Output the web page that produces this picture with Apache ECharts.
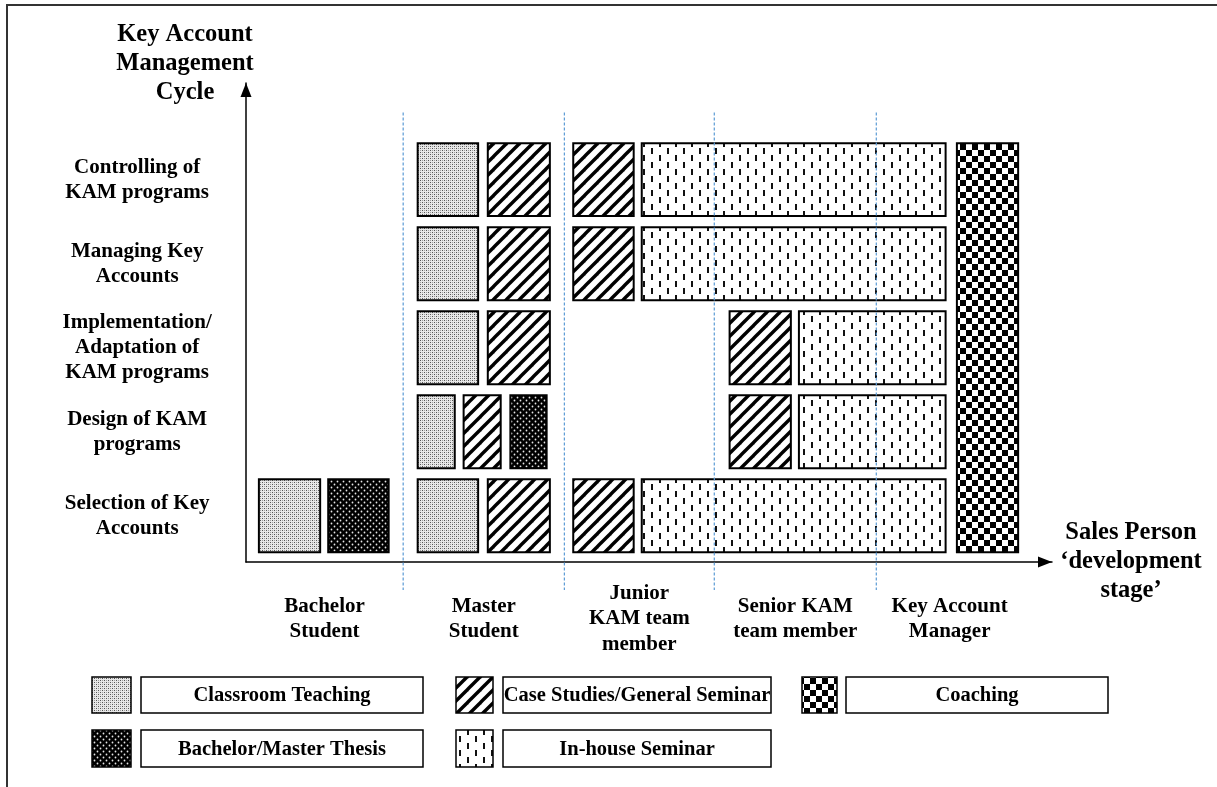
<!DOCTYPE html>
<html>
<head>
<meta charset="utf-8">
<script src="https://cdn.jsdelivr.net/npm/echarts@6/dist/echarts.min.js"></script>
<style>
  html, body { margin: 0; padding: 0; background: #fff; }
  #chart { width: 1217px; height: 787px; }
</style>
</head>
<body>
<div id="chart"></div>
<script>
// ---------------- DATA ----------------
// Rows of the Key Account Management cycle (bottom -> top, y = 1..5)
const rowNames = [
  'Selection of Key\nAccounts',
  'Design of KAM\nprograms',
  'Implementation/\nAdaptation of\nKAM programs',
  'Managing Key\nAccounts',
  'Controlling of\nKAM programs'
];
// Sales person development stages along the x axis
const stageNames = [
  'Bachelor\nStudent',
  'Master\nStudent',
  'Junior\nKAM team\nmember',
  'Senior KAM\nteam member',
  'Key Account\nManager'
];
// stage edges on the x scale (0..100)
const stageEdges = [0, 19.5, 39.5, 58.1, 78.2, 96.4];

// blocks: [xStart, xEnd, rowFrom, rowTo]
const classroomBlocks = [
  [1.6, 9.2, 1, 1],
  [21.3, 28.8, 1, 1],
  [21.3, 25.9, 2, 2],
  [21.3, 28.8, 3, 3],
  [21.3, 28.8, 4, 4],
  [21.3, 28.8, 5, 5]
];
const thesisBlocks = [
  [10.2, 17.7, 1, 1],
  [32.8, 37.3, 2, 2]
];
const caseStudyBlocks = [
  [30.0, 37.7, 1, 1],
  [27.0, 31.6, 2, 2],
  [30.0, 37.7, 3, 3],
  [30.0, 37.7, 4, 4],
  [30.0, 37.7, 5, 5],
  [40.6, 48.1, 1, 1],
  [40.6, 48.1, 4, 4],
  [40.6, 48.1, 5, 5],
  [60.0, 67.6, 2, 2],
  [60.0, 67.6, 3, 3]
];
const inHouseBlocks = [
  [49.1, 86.8, 1, 1],
  [49.1, 86.8, 4, 4],
  [49.1, 86.8, 5, 5],
  [68.6, 86.8, 2, 2],
  [68.6, 86.8, 3, 3]
];
const coachingBlocks = [
  [88.2, 95.8, 1, 5]
];

const legendNames = [
  'Classroom Teaching',
  'Case Studies/General Seminar',
  'Coaching',
  'Bachelor/Master Thesis',
  'In-house Seminar'
];
const yAxisTitle = 'Key Account\nManagement\nCycle';
const xAxisTitle = 'Sales Person\n\u2018development\nstage\u2019';

// ---------------- STYLE / LAYOUT ----------------
const FONT = '"Liberation Serif", "Times New Roman", Times, serif';
const HALF = 0.434;           // half height of a block in row units
const ROW_LABEL_X = -13.5;    // x value where row labels are centred
const STAGE_LABEL_Y = -0.228; // y value where stage labels are centred
const DIV_TOP = 5.8, DIV_BOTTOM = 0.117;

function makeCanvas(w, h, draw) {
  const c = document.createElement('canvas');
  c.width = w; c.height = h;
  const g = c.getContext('2d');
  draw(g, w, h);
  return c;
}
const patterns = {
  classroom: { image: makeCanvas(4, 4, (g) => {
    g.fillStyle = '#e8e8e8'; g.fillRect(0, 0, 4, 4);
    g.fillStyle = '#555'; g.fillRect(0, 0, 1, 1); g.fillRect(2, 2, 1, 1);
    g.fillStyle = '#a0a0a0'; g.fillRect(2, 0, 1, 1); g.fillRect(0, 2, 1, 1);
  }), repeat: 'repeat' },
  thesis: { image: makeCanvas(6, 6, (g) => {
    g.fillStyle = '#000'; g.fillRect(0, 0, 6, 6);
    g.fillStyle = '#e6e6e6';
    g.beginPath(); g.arc(1.5, 1.5, 0.9, 0, Math.PI * 2); g.fill();
    g.beginPath(); g.arc(4.5, 4.5, 0.9, 0, Math.PI * 2); g.fill();
  }), repeat: 'repeat' },
  caseStudy: { image: makeCanvas(13, 13, (g) => {
    g.fillStyle = '#fff'; g.fillRect(0, 0, 13, 13);
    g.strokeStyle = '#000'; g.lineWidth = 3.4;
    [-13, 0, 13].forEach((o) => {
      g.beginPath(); g.moveTo(o - 2, 15); g.lineTo(o + 15, -2); g.stroke();
    });
  }), repeat: 'repeat' },
  inHouse: { image: makeCanvas(16, 14, (g) => {
    g.fillStyle = '#fff'; g.fillRect(0, 0, 16, 14);
    g.fillStyle = '#111'; g.fillRect(3, 1, 2, 6); g.fillRect(11, 8, 2, 6);
  }), repeat: 'repeat' },
  coaching: { image: makeCanvas(12, 12, (g) => {
    g.fillStyle = '#fff'; g.fillRect(0, 0, 12, 12);
    g.fillStyle = '#000'; g.fillRect(0, 0, 6, 6); g.fillRect(6, 6, 6, 6);
  }), repeat: 'repeat' }
};

function blockRenderer(pattern) {
  return function (params, api) {
    const p0 = api.coord([api.value(0), api.value(3) + HALF]);
    const p1 = api.coord([api.value(1), api.value(2) - HALF]);
    return {
      type: 'rect',
      shape: { x: p0[0], y: p0[1], width: p1[0] - p0[0], height: p1[1] - p0[1] },
      style: { fill: pattern, stroke: '#000', lineWidth: 2 }
    };
  };
}
function blockSeries(name, data, pattern) {
  return {
    type: 'custom', name: name, data: data, z: 2, silent: true,
    encode: { x: [0, 1], y: [2, 3] },
    renderItem: blockRenderer(pattern)
  };
}
function textStyle(text, size, lh) {
  return {
    text: text, fill: '#000', fontSize: size, fontWeight: 'bold', fontFamily: FONT,
    align: 'center', verticalAlign: 'middle', lineHeight: lh
  };
}

// legend layout (pixels)
const legendPatterns = ['classroom', 'caseStudy', 'coaching', 'thesis', 'inHouse'];
const legendLayout = [
  { sx: 92, sw: 39, bx: 141, bw: 282, y: 677, h: 36 },
  { sx: 456, sw: 37, bx: 503, bw: 268, y: 677, h: 36 },
  { sx: 802, sw: 35, bx: 846, bw: 262, y: 677, h: 36 },
  { sx: 92, sw: 39, bx: 141, bw: 282, y: 730, h: 37 },
  { sx: 456, sw: 37, bx: 503, bw: 268, y: 730, h: 37 }
];
const graphics = [
  { type: 'polyline', shape: { points: [[1217, 5], [7, 5], [7, 787]] },
    style: { stroke: '#333', lineWidth: 2, fill: null }, silent: true }
];
legendNames.forEach((name, i) => {
  const L = legendLayout[i];
  graphics.push({ type: 'rect', shape: { x: L.sx, y: L.y, width: L.sw, height: L.h },
    style: { fill: patterns[legendPatterns[i]], stroke: '#000', lineWidth: 1.5 }, silent: true });
  graphics.push({ type: 'rect', shape: { x: L.bx, y: L.y, width: L.bw, height: L.h },
    style: { fill: '#fff', stroke: '#000', lineWidth: 1.5 }, silent: true });
  graphics.push({ type: 'text', x: L.bx + L.bw / 2, y: L.y + L.h / 2 + 1,
    style: textStyle(name, 20.5, 24), silent: true });
});

const axisLineBase = {
  show: true, onZero: false,
  symbol: ['none', 'triangle'], symbolSize: [11, 14], symbolOffset: [0, -7],
  lineStyle: { color: '#000', width: 1.5 }
};

const option = {
  animation: false,
  backgroundColor: '#fff',
  grid: { left: 246, right: 165, top: 83, bottom: 225 },
  xAxis: {
    type: 'value', min: 0, max: 100,
    axisLine: axisLineBase,
    axisTick: { show: false }, axisLabel: { show: false }, splitLine: { show: false },
    name: xAxisTitle, nameLocation: 'end', nameGap: 79,
    nameTextStyle: { fontFamily: FONT, fontWeight: 'bold', fontSize: 24.5, color: '#000',
      align: 'center', verticalAlign: 'middle', lineHeight: 29 }
  },
  yAxis: {
    type: 'value', min: 0.45, max: 6.15,
    axisLine: axisLineBase,
    axisTick: { show: false }, axisLabel: { show: false }, splitLine: { show: false },
    name: yAxisTitle, nameLocation: 'end', nameGap: 19,
    nameTextStyle: { fontFamily: FONT, fontWeight: 'bold', fontSize: 24.5, color: '#000',
      align: 'center', verticalAlign: 'middle', lineHeight: 29, padding: [0, 122, 0, 0] }
  },
  graphic: graphics,
  series: [
    blockSeries('Classroom Teaching', classroomBlocks, patterns.classroom),
    blockSeries('Bachelor/Master Thesis', thesisBlocks, patterns.thesis),
    blockSeries('Case Studies/General Seminar', caseStudyBlocks, patterns.caseStudy),
    blockSeries('In-house Seminar', inHouseBlocks, patterns.inHouse),
    blockSeries('Coaching', coachingBlocks, patterns.coaching),
    {
      type: 'custom', name: 'stageDividers', z: 3, silent: true,
      data: stageEdges.slice(1, -1).map((v) => [v]),
      encode: { x: 0 },
      renderItem: function (params, api) {
        const p0 = api.coord([api.value(0), DIV_TOP]);
        const p1 = api.coord([api.value(0), DIV_BOTTOM]);
        return { type: 'line', shape: { x1: p0[0], y1: p0[1], x2: p1[0], y2: p1[1] },
          style: { stroke: '#5b9bd5', lineWidth: 1.2, lineDash: [3, 2] } };
      }
    },
    {
      type: 'custom', name: 'rowLabels', z: 4, silent: true,
      data: rowNames.map((n, i) => [ROW_LABEL_X, i + 1]),
      encode: { x: 0, y: 1 },
      renderItem: function (params, api) {
        const p = api.coord([api.value(0), api.value(1)]);
        return { type: 'text', x: p[0], y: p[1], style: textStyle(rowNames[params.dataIndex], 21, 25) };
      }
    },
    {
      type: 'custom', name: 'stageLabels', z: 4, silent: true,
      data: stageNames.map((n, i) => [(stageEdges[i] + stageEdges[i + 1]) / 2, STAGE_LABEL_Y]),
      encode: { x: 0, y: 1 },
      renderItem: function (params, api) {
        const p = api.coord([api.value(0), api.value(1)]);
        return { type: 'text', x: p[0], y: p[1], style: textStyle(stageNames[params.dataIndex], 21, 25.5) };
      }
    }
  ]
};

const chart = echarts.init(document.getElementById('chart'));
chart.setOption(option);
</script>
</body>
</html>
